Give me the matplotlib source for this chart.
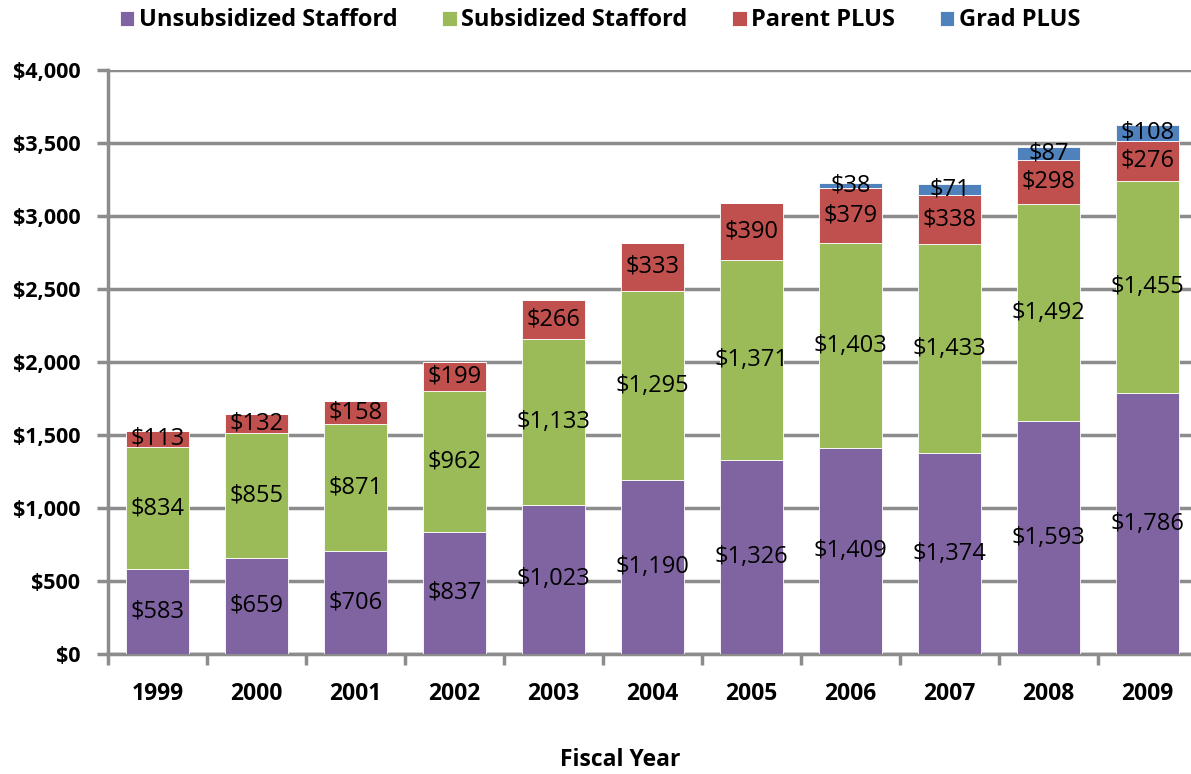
import numpy as np
import matplotlib.pyplot as plt
from matplotlib.ticker import FuncFormatter

plt.rcParams['font.family'] = ['Open Sans', 'DejaVu Sans']

years = ['1999', '2000', '2001', '2002', '2003', '2004', '2005', '2006', '2007', '2008', '2009']
unsub_stafford = [583, 659, 706, 837, 1023, 1190, 1326, 1409, 1374, 1593, 1786]
sub_stafford = [834, 855, 871, 962, 1133, 1295, 1371, 1403, 1433, 1492, 1455]
parent_plus = [113, 132, 158, 199, 266, 333, 390, 379, 338, 298, 276]
grad_plus = [0, 0, 0, 0, 0, 0, 0, 38, 71, 87, 108]

series = [
    ('Unsubsidized Stafford', unsub_stafford, '#8064a2'),
    ('Subsidized Stafford', sub_stafford, '#9bbb59'),
    ('Parent PLUS', parent_plus, '#c0504d'),
    ('Grad PLUS', grad_plus, '#4f81bd'),
]

fig = plt.figure(figsize=(11.91, 7.74), dpi=100)
# plot area runs a little past the right edge of the figure
ax = fig.add_axes([108 / 1191, 120 / 774, 1089 / 1191, 584 / 774])

x = np.arange(len(years))
bottom = np.zeros(len(years))
for name, vals, color in series:
    vals = np.array(vals, dtype=float)
    ax.bar(x, vals, 0.645, bottom=bottom, color=color, label=name,
           edgecolor='white', linewidth=0.6, zorder=3)
    for xi, b, v in zip(x, bottom, vals):
        if v > 0:
            ax.text(xi, b + v / 2, f'${v:,.0f}', ha='center', va='center',
                    fontsize=17, color='black', zorder=4)
    bottom += vals

ax.set_xlim(-0.5, len(years) - 0.5)
ax.set_ylim(0, 4000)
ax.set_yticks(np.arange(0, 4001, 500))
ax.yaxis.set_major_formatter(FuncFormatter(lambda v, p: f'${v:,.0f}'))
ax.set_xticks(x)
ax.set_xticklabels(years)
ax.set_xticks(np.arange(-0.5, len(years), 1), minor=True)

for lbl in ax.get_xticklabels():
    lbl.set_fontweight('bold')
    lbl.set_fontsize(16.5)
for lbl in ax.get_yticklabels():
    lbl.set_fontweight('bold')
    lbl.set_fontsize(15.5)

ax.grid(axis='y', color='#8c8c8c', linewidth=2.5, zorder=0)
ax.set_axisbelow(True)
for s in ['top', 'right']:
    ax.spines[s].set_visible(False)
for s in ['left', 'bottom']:
    ax.spines[s].set_color('#8c8c8c')
    ax.spines[s].set_linewidth(2.5)

ax.tick_params(axis='x', which='major', length=0, pad=20)
ax.tick_params(axis='x', which='minor', length=8, width=2.5, color='#8c8c8c')
ax.tick_params(axis='y', length=8, width=2.5, color='#8c8c8c', pad=12)

# axis title sits under the whole figure, not centred on the plot area
fig.text(620 / 1191, 1 - 760 / 774, 'Fiscal Year', ha='center', va='center',
         fontsize=16.5, fontweight='bold')

ax.legend(loc='center', bbox_to_anchor=(0.452, 1.085), ncol=4, frameon=False,
          prop={'weight': 'bold', 'size': 17}, handlelength=0.6, handleheight=0.6,
          handletextpad=0.2, columnspacing=1.9)

plt.savefig('out.png', dpi=100)
